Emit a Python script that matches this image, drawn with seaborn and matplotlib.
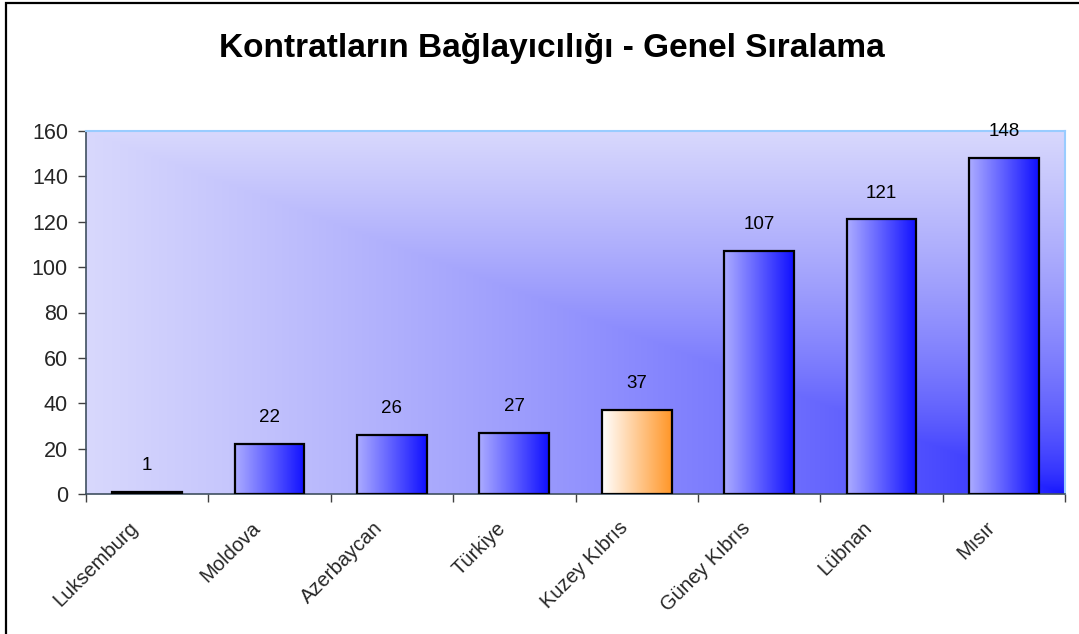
import numpy as np
import pandas as pd
import matplotlib
matplotlib.use("Agg")
import matplotlib.pyplot as plt
import matplotlib.transforms as mtransforms
import seaborn as sns
from matplotlib.patches import Rectangle

categories = ["Luksemburg", "Moldova", "Azerbaycan", "Türkiye", "Kuzey Kıbrıs",
              "Güney Kıbrıs", "Lübnan", "Mısır"]
values = [1, 22, 26, 27, 37, 107, 121, 148]
highlight = "Kuzey Kıbrıs"
title = "Kontratların Bağlayıcılığı - Genel Sıralama"
yticks = [0, 20, 40, 60, 80, 100, 120, 140, 160]

sns.set_theme(style="white")
plt.rcParams['font.family'] = ['Liberation Sans', 'DejaVu Sans']

fig = plt.figure(figsize=(10.79, 6.34), dpi=100)
W, H = 1079, 634
ax = fig.add_axes([86 / W, 1 - 494 / H, (1065 - 86) / W, (494 - 131) / H])

df = pd.DataFrame({"cat": categories, "val": values})
sns.barplot(data=df, x="cat", y="val", ax=ax, width=0.57, color="#8888ff",
            edgecolor="black", linewidth=1.6, zorder=3)

n = len(categories)
ax.set_ylim(0, 160)
ax.set_xlim(-0.5, n - 0.5)

# background "from corner" gradient
ny, nx = 300, 400
u = np.linspace(0, 1, nx)[None, :]
v = np.linspace(1, 0, ny)[:, None]   # top row v=1
d = np.clip(np.maximum(1 - u, v), 0, 1) ** 0.6
light = np.array([216, 216, 252]) / 255
dark = np.array([16, 16, 255]) / 255
img = dark + (light - dark) * d[..., None]
ax.imshow(img, extent=[-0.5, n - 0.5, 0, 160], aspect="auto", zorder=0,
          interpolation="bilinear")

# bar gradients
xs = np.linspace(0, 1, 256)[None, :, None]
for patch, cat in zip(ax.patches, categories):
    if not isinstance(patch, Rectangle):
        continue
    x0, y0 = patch.get_x(), patch.get_y()
    w, h = patch.get_width(), patch.get_height()
    if cat == highlight:
        c0 = np.array([255, 255, 255]) / 255
        c1 = np.array([255, 150, 40]) / 255
    else:
        c0 = np.array([172, 172, 255]) / 255
        c1 = np.array([16, 16, 255]) / 255
    grad = np.repeat(c0 + (c1 - c0) * xs, 2, axis=0)
    im = ax.imshow(grad, extent=[x0, x0 + w, y0, y0 + h], aspect="auto",
                   zorder=2, interpolation="bilinear")
    im.set_clip_path(patch)
    patch.set_facecolor("none")

# value labels
for i, val in enumerate(values):
    ax.annotate(str(val), (i, val), xytext=(0, 19), textcoords="offset points",
                ha="center", va="center", fontsize=13.5, color="black", zorder=5)

ax.set_xlim(-0.5, n - 0.5)
ax.set_ylim(0, 160)
ax.set_yticks(yticks)
ax.set_yticklabels([str(y) for y in yticks], fontsize=15.5)
ax.set_xticks(range(n))
ax.set_xticklabels(categories, rotation=45, ha="right", va="center",
                   rotation_mode="anchor", fontsize=14.5)
ax.set_xticks(np.arange(-0.5, n, 1), minor=True)
ax.tick_params(axis="x", which="major", length=0, pad=0)
ax.tick_params(axis="x", which="minor", length=6, width=1, color="#404040",
               direction="out", bottom=True)
ax.tick_params(axis="y", which="major", length=6, width=1, color="#404040",
               direction="out", left=True, pad=7)
offset = mtransforms.ScaledTranslation(-12 / 100, -31 / 100, fig.dpi_scale_trans)
for lab in ax.get_xticklabels():
    lab.set_transform(lab.get_transform() + offset)
ax.set_xlabel("")
ax.set_ylabel("")
ax.grid(False)

for s in ["left", "bottom"]:
    ax.spines[s].set_color("#405060")
    ax.spines[s].set_linewidth(1.2)
for s in ["top", "right"]:
    ax.spines[s].set_color("#99ccff")
    ax.spines[s].set_linewidth(1.5)

fig.text(552 / W, 1 - 48 / H, title, ha="center", va="center", fontsize=24,
         fontweight="bold", color="black")

# figure frame
fig.patches.append(Rectangle((6 / W, -0.05), 1.1, 1 - 3 / H + 0.05,
                             transform=fig.transFigure, fill=False,
                             edgecolor="black", linewidth=1.6, zorder=10))

fig.savefig("out.png", dpi=100)
